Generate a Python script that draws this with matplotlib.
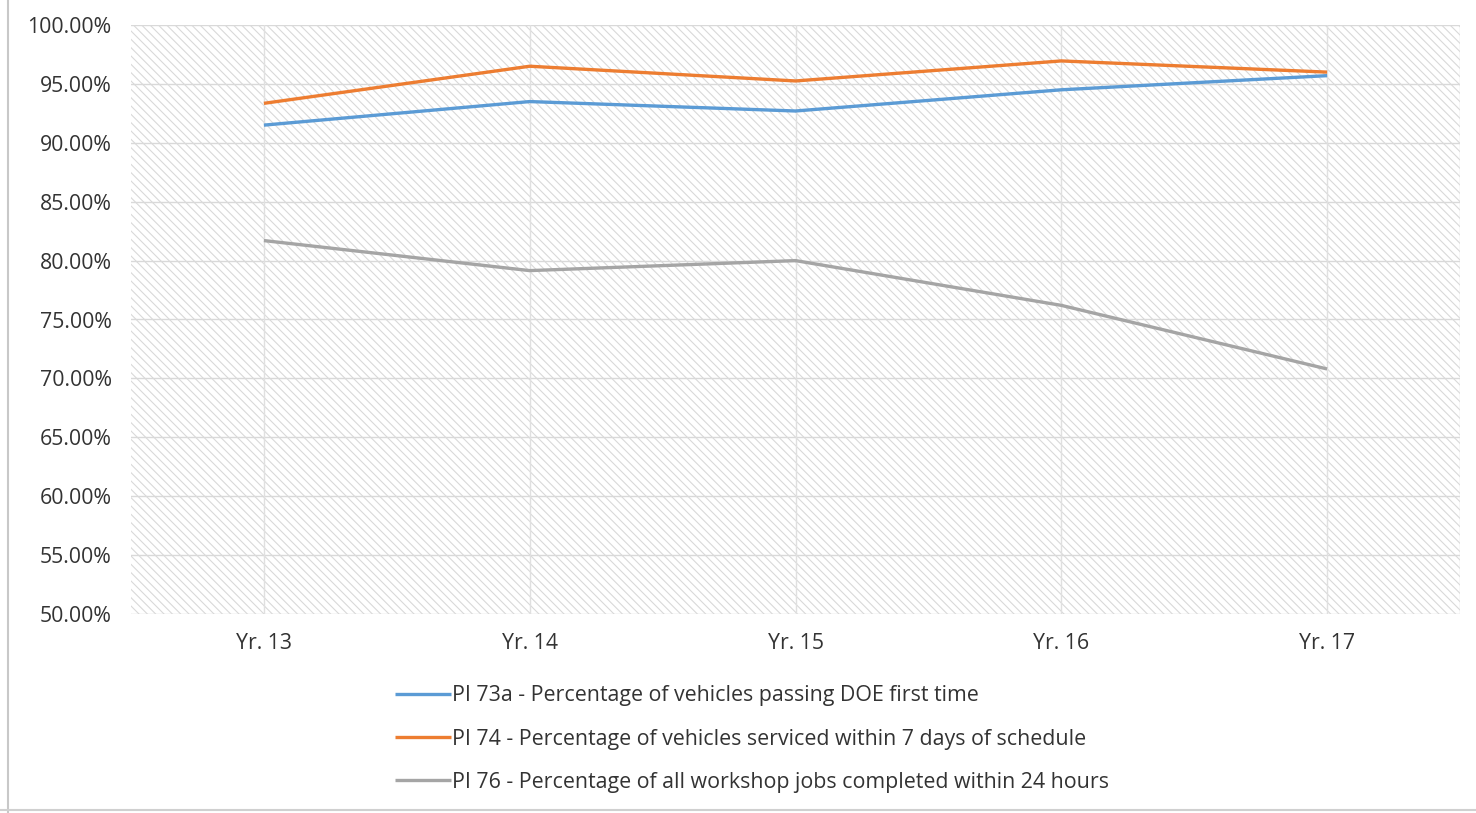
import matplotlib
matplotlib.use("Agg")
import matplotlib.pyplot as plt
from matplotlib.patches import Rectangle
from matplotlib.lines import Line2D
from matplotlib.ticker import FuncFormatter

plt.rcParams['font.family'] = ['Open Sans', 'DejaVu Sans']

years = ["Yr. 13", "Yr. 14", "Yr. 15", "Yr. 16", "Yr. 17"]
pi73a = [91.5, 93.5, 92.7, 94.5, 95.7]
pi74 = [93.35, 96.5, 95.25, 96.95, 96.0]
pi76 = [81.7, 79.15, 80.0, 76.2, 70.8]
series_labels = [
    "PI 73a - Percentage of vehicles passing DOE first time",
    "PI 74 - Percentage of vehicles serviced within 7 days of schedule",
    "PI 76 - Percentage of all workshop jobs completed within 24 hours",
]
series_colors = ["#5B9BD5", "#ED7D31", "#A5A5A5"]
y_ticks = [50, 55, 60, 65, 70, 75, 80, 85, 90, 95, 100]

W, H = 1476, 813
fig = plt.figure(figsize=(W / 100, H / 100), dpi=100)
ax = fig.add_axes([131 / W, 1 - 614 / H, (1460 - 131) / W, (614 - 25) / H])

plt.rcParams['hatch.color'] = '#d9d9d9'
plt.rcParams['hatch.linewidth'] = 0.8

x = list(range(len(years)))
ax.set_xlim(-0.5, len(years) - 0.5)
ax.set_ylim(y_ticks[0], y_ticks[-1])

# hatched plot-area background
bg = Rectangle((0, 0), 1, 1, transform=ax.transAxes, facecolor='white',
               edgecolor='#d9d9d9', hatch='\\\\\\\\', linewidth=0, zorder=0)
ax.add_patch(bg)

for yv in y_ticks:
    ax.axhline(yv, color='#d9d9d9', linewidth=1.0, zorder=1)
for xv in x:
    ax.axvline(xv, color='#e0e0e0', linewidth=1.0, zorder=1)
ax.axvline(len(years) - 0.5, color='#e0e0e0', linewidth=1.0, zorder=1)

handles = []
for vals, col, lab in zip([pi73a, pi74, pi76], series_colors, series_labels):
    h, = ax.plot(x, vals, color=col, linewidth=2.4, solid_capstyle='butt',
                 zorder=3, label=lab)
    handles.append(h)

ax.set_xticks(x)
ax.set_xticklabels(years)
ax.set_yticks(y_ticks)
ax.yaxis.set_major_formatter(FuncFormatter(lambda v, p: f"{v:.2f}%"))
ax.tick_params(axis='both', length=0, labelsize=15.3, colors='#333333')
ax.tick_params(axis='y', pad=14)
ax.tick_params(axis='x', pad=14)
for s in ax.spines.values():
    s.set_visible(False)
ax.set_facecolor('white')

fig.legend(handles=handles, labels=series_labels, loc='center left',
           bbox_to_anchor=(395 / W, 1 - 739 / H), frameon=False,
           fontsize=15.4, labelcolor='#333333', handlelength=2.6,
           handletextpad=0.05, labelspacing=1.05, borderpad=0,
           borderaxespad=0)

# outer frame lines on the left and bottom
fig.add_artist(Line2D([8 / W, 8 / W], [0, 1], transform=fig.transFigure,
                      color='#c8c8c8', linewidth=1.5))
fig.add_artist(Line2D([0, 1], [3 / H, 3 / H], transform=fig.transFigure,
                      color='#d0d0d0', linewidth=1.5))

fig.savefig("out.png", dpi=100)
